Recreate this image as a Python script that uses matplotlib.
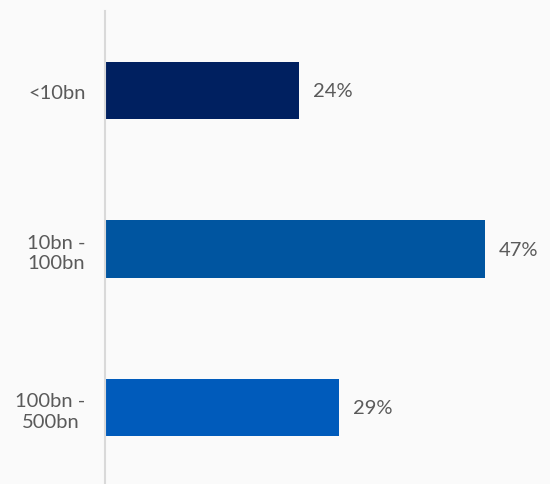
import matplotlib
matplotlib.use("Agg")
import matplotlib.pyplot as plt

categories = ["<10bn", "10bn -\n100bn", "100bn -\n500bn"]
shares = [24, 47, 29]
bar_colors = ["#002060", "#0055A0", "#005BBB"]

BG = "#FAFAFA"
TEXT = "#5A5A5A"

plt.rcParams["font.family"] = ["Lato", "DejaVu Sans"]

W, H, DPI = 550, 485, 100
fig = plt.figure(figsize=(W / DPI, H / DPI), dpi=DPI, facecolor=BG)
# axes from the vertical baseline (x=105 px) to the right edge, y 12..485 px
ax = fig.add_axes([105 / W, 0, 1 - 105 / W, (H - 12) / H])
ax.set_facecolor(BG)

pos = list(range(len(categories)))
ax.barh(pos, shares, height=0.36, color=bar_colors, zorder=2)

px_per_pct = 8.08
ax.set_xlim(0, (W - 105) / px_per_pct)
ax.set_ylim(2.4826, -0.5016)

for y, v in zip(pos, shares):
    ax.annotate(f"{v}%", (v, y), xytext=(10, 0), textcoords="offset points",
                ha="left", va="center", fontsize=14.5, color=TEXT)

ax.set_yticks(pos)
ax.set_yticklabels(categories, fontsize=14.5, color=TEXT, multialignment="center",
                   linespacing=1.25)
ax.tick_params(axis="y", length=0, pad=14)
ax.set_xticks([])

for side in ("top", "right", "bottom"):
    ax.spines[side].set_visible(False)
ax.spines["left"].set_color("#D9D9D9")
ax.spines["left"].set_linewidth(1.5)

fig.savefig("out.png", dpi=DPI, facecolor=BG)
